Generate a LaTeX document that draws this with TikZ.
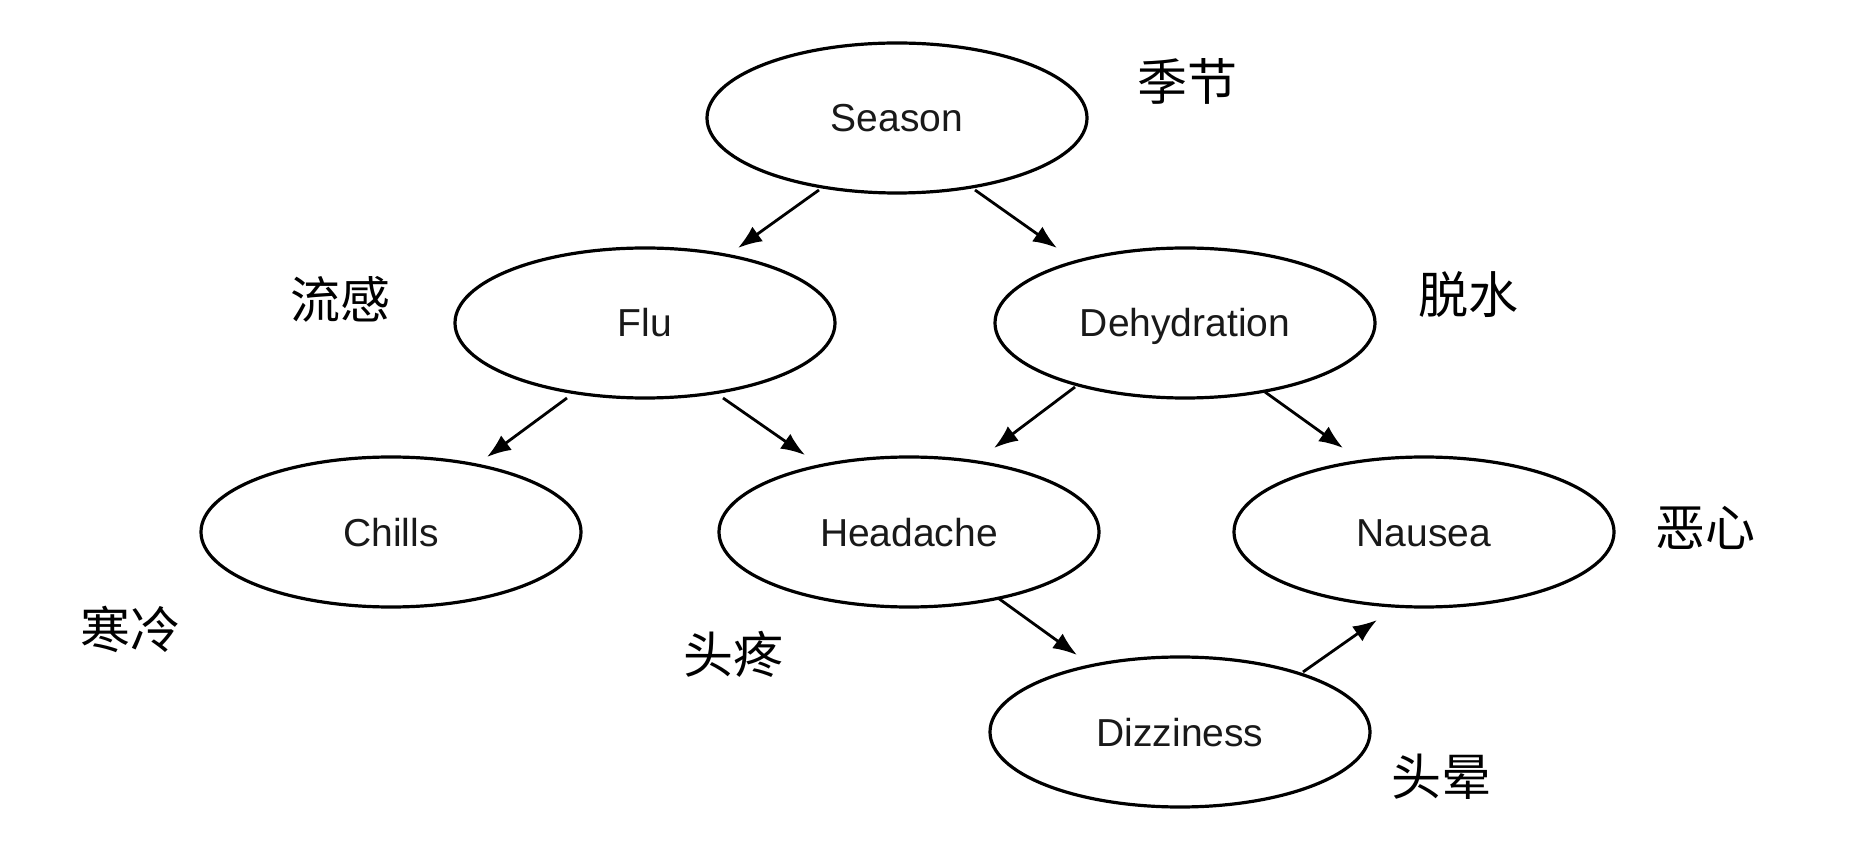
\documentclass[tikz,border=0pt]{standalone}
\usepackage{fontspec}
\setmainfont{Liberation Sans}
\newfontfamily\cjk{Noto Sans CJK SC}
\usetikzlibrary{shapes.geometric,arrows.meta,calc}
\tikzset{
  var/.style={ellipse, draw=black, line width=1.6pt, minimum width=190pt, minimum height=75pt,
              inner sep=0pt, text height=14pt, text depth=0pt,
              font=\fontsize{19.5}{23}\selectfont, text=black!90},
  cn/.style={font=\cjk\fontsize{25}{30}\selectfont, text=black, inner sep=0pt},
  arr/.style={line width=1.4pt, -{Latex[length=12pt,width=9pt]}}
}
\begin{document}
\begin{tikzpicture}[x=0.5pt,y=-0.5pt]
\useasboundingbox[fill=white] (0,0) rectangle (1870,844);
\node[var] (season) at (897,118) {Season};
\node[var] (flu) at (645,323) {Flu};
\node[var] (dehy) at (1185,323) {Dehydration};
\node[var] (chills) at (391,532) {Chills};
\node[var] (head) at (909,532) {Headache};
\node[var] (nausea) at (1424,532) {Nausea};
\node[var] (dizz) at (1180,732) {Dizziness};

\node[cn] (lseason) at (1187,81) {季节};
\node[cn] (lflu) at (340,299) {流感};
\node[cn] (ldehy) at (1468,295) {脱水};
\node[cn] (lchills) at (130,629) {寒冷};
\node[cn] (lhead) at (733,654) {头疼};
\node[cn] (lnausea) at (1705,528) {恶心};
\node[cn] (ldizz) at (1441,777) {头晕};

\draw[arr] ($(season)+(-78,72)$) -- ($(flu)+(93,-75)$);
\draw[arr] ($(season)+(78,72)$) -- ($(dehy)+(-128,-75)$);
\draw[arr] ($(flu)+(-78,75)$) -- ($(chills)+(96,-75)$);
\draw[arr] ($(flu)+(78,75)$) -- ($(head)+(-104,-77)$);
\draw[arr] ($(dehy)+(-110,64)$) -- ($(head)+(85,-84)$);
\draw[arr] ($(dehy)+(80,69)$) -- ($(nausea)+(-81,-84)$);
\draw[arr] ($(head)+(89,66)$) -- ($(dizz)+(-103,-77)$);
\draw[arr] ($(dizz)+(123,-60)$) -- ($(nausea)+(-47,88)$);
\end{tikzpicture}
\end{document}
